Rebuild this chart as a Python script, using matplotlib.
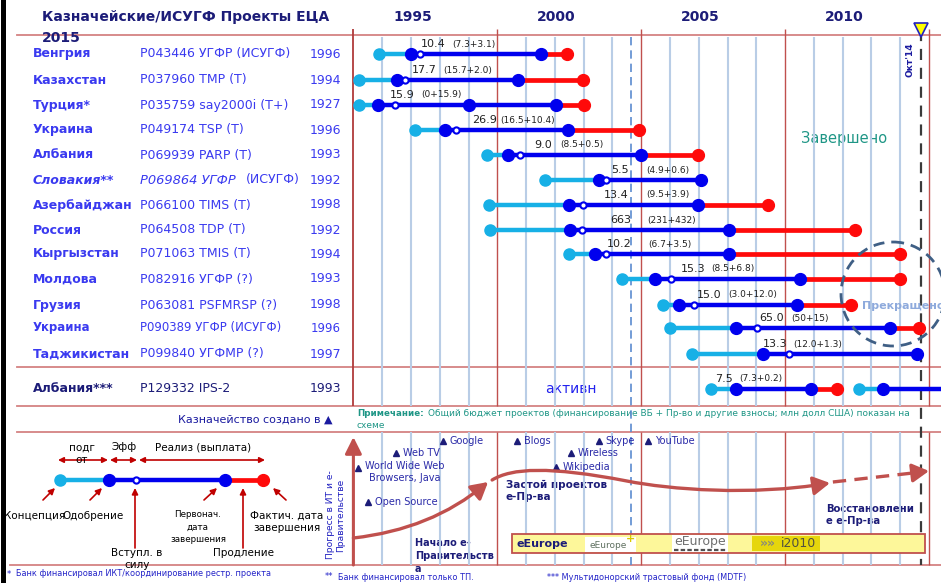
import matplotlib
matplotlib.use('Agg')
import matplotlib.pyplot as plt
from matplotlib.patches import Ellipse, Rectangle, FancyArrowPatch
from matplotlib.path import Path

plt.rcParams['font.family'] = ['DejaVu Sans']

# ---------------- data ----------------
countries = ['Венгрия', 'Казахстан', 'Турция*', 'Украина', 'Албания', 'Словакия**',
             'Азербайджан', 'Россия', 'Кыргызстан', 'Молдова', 'Грузия', 'Украина',
             'Таджикистан', 'Албания***']
projects = ['P043446 УГФР (ИСУГФ)', 'P037960 TMP (T)', 'P035759 say2000i (T+)',
            'P049174 TSP (T)', 'P069939 PARP (T)', 'P069864 УГФР (ИСУГФ)',
            'P066100 TIMS (T)', 'P064508 TDP (T)', 'P071063 TMIS (T)',
            'P082916 УГФР (?)', 'P063081 PSFMRSP (?)', 'P090389 УГФР (ИСУГФ)',
            'P099840 УГФМР (?)', 'P129332 IPS-2']
treasury_year = ['1996', '1994', '1927', '1996', '1993', '1992', '1998', '1992',
                 '1994', '1993', '1998', '1996', '1997', '1993']

concept = [1993.88, 1993.19, 1993.19, 1995.14, 1997.64, 1999.65, 1997.71, 1997.75,
           2000.49, 2002.33, 2003.76, 2003.99, 2004.77, 2005.44]
approval = [1995.00, 1994.53, 1993.84, 1996.20, 1998.36, 2001.53, 2000.50, 2000.54,
            2001.39, 2003.47, 2004.30, 2006.31, 2007.24, 2006.28]
effective = [1995.31, 1994.78, 1994.45, 1996.57, 1998.79, 2001.78, 2000.98, 2000.93,
             2001.76, 2004.05, 2004.83, 2007.02, 2008.15, None]
orig_close = [1999.52, 1998.72, 2000.04, 2000.44, 2002.98, 2005.09, 2004.98, 2006.05,
              2006.05, 2008.51, 2008.41, 2011.63, 2012.58, 2008.89]
actual_close = [2000.42, 2000.99, 2001.01, 2002.94, 2004.96, None, 2007.40, 2010.42,
                2011.99, 2011.99, 2010.30, 2012.64, None, 2009.79]
turkey_extra_milestone = 1997.0
albania2_concept = 2010.58
albania2_approval = 2011.40

budget_total = ['10.4', '17.7', '15.9', '26.9', '9.0', '5.5', '13.4', '663', '10.2',
                '15.3', '15.0', '65.0', '13.3', '7.5']
budget_split = ['(7.3+3.1)', '(15.7+2.0)', '(0+15.9)', '(16.5+10.4)', '(8.5+0.5)',
                '(4.9+0.6)', '(9.5+3.9)', '(231+432)', '(6.7+3.5)', '(8.5+6.8)',
                '(3.0+12.0)', '(50+15)', '(12.0+1.3)', '(7.3+0.2)']

axis_years = [1995, 2000, 2005, 2010]
oct14_year = 2012.73
dashed_ref_year = 2002.65

events = ['World Wide Web\nBrowsers, Java', 'Open Source', 'Web TV', 'Google', 'Blogs',
          'Wikipedia', 'Wireless', 'Skype', 'YouTube']
event_years = [1993.16, 1993.51, 1994.48, 1996.11, 1998.68, 2000.04, 2000.56, 2001.53, 2003.23]

eeurope_start, eeurope_end = 1998.5, 2012.86

# ---------------- layout ----------------
W, H = 941, 583
PX0, PPY = 353.4, 28.78          # pixel of 1993, pixels per year
row_y = [54, 80, 105, 130, 155, 180, 205, 230, 254, 279, 305, 328, 354, 389]
label_total_x = [1995.33, 1995.04, 1994.26, 1997.14, 1999.30, 2001.97, 2001.69, 2001.91,
                 2001.79, 2004.36, 2004.92, 2007.11, 2007.24, 2005.56]
label_split_x = [1996.43, 1996.13, 1995.36, 1998.11, 2000.17, 2003.17, 2003.17, 2003.22,
                 2003.24, 2005.44, 2006.02, 2008.21, 2008.27, 2006.41]
event_y = [468, 502, 453, 441, 441, 467, 453, 441, 441]

NAVY = '#1c1c78'
ROWBLUE = '#3a3af0'
LB = '#17b0e6'
BLUE = '#0000ee'
RED = '#ff0a0a'
DKRED = '#c00000'
GRIDRED = '#c0504d'
GRIDBLUE = '#b9cde6'
HLINE = '#d48282'
TEAL = '#1f9686'
FOOT = '#2323c8'

fig = plt.figure(figsize=(W / 100, H / 100), dpi=100)
fig.patch.set_facecolor('white')
ax = fig.add_axes([0, 0, 1, 1])
ax.set_xlim(0, W)
ax.set_ylim(H, 0)
ax.axis('off')
tax = fig.add_axes([0, 0, 1, 1])
tax.set_xlim(1993 - PX0 / PPY, 1993 + (W - PX0) / PPY)
tax.set_ylim(H, 0)
tax.axis('off')
PXT = ax.transData   # pixel coordinates, usable on either axes

# ---------------- frame / separators ----------------
ax.plot([3.5, 3.5], [0, H], color='black', lw=3.6)
for yy in (35, 367, 406, 432):
    ax.plot([17, W], [yy, yy], color=HLINE, lw=1.3, zorder=1)
ax.plot([10, W], [565, 565], color=HLINE, lw=1.3, zorder=1)

# grid lines (years)
for yr in range(1994, 2014):
    if yr in (1998, 2003, 2008, 2013):
        tax.vlines(yr, 29, 406, color=GRIDRED, lw=1.0, zorder=1)
        tax.vlines(yr, 432, 565, color=GRIDRED, lw=1.0, zorder=1)
    else:
        tax.vlines(yr, 37, 406, color=GRIDBLUE, lw=1.5, zorder=1)
        tax.vlines(yr, 432, 565, color=GRIDBLUE, lw=1.5, zorder=1)
tax.vlines(1993, 29, 406, color='#b03a3a', lw=1.3, zorder=1)
tax.vlines(dashed_ref_year, 37, 565, color='#5b8bd0', lw=1.2, linestyles=(0, (5, 3)), zorder=1)
tax.vlines(oct14_year, 30, 565, color='#3a3a3a', lw=1.6, linestyles=(0, (5, 3.5)), zorder=2)
tax.plot([oct14_year], [30], marker='v', ms=10, mfc='#ffff00', mec='#2020c0', mew=1.2, zorder=5)
tax.text(oct14_year - 0.38, 60, "Окт'14", rotation=90, ha='center', va='center',
         fontsize=6.5, fontweight='bold', color='#1c1ca0')

# header
ax.text(42, 17, 'Казначейские/ИСУГФ Проекты ЕЦА', fontsize=10, fontweight='bold',
        color=NAVY, va='center', ha='left')
ax.text(42, 38, '2015', fontsize=10, fontweight='bold', color=NAVY, va='center', ha='left')
for yr in axis_years:
    tax.text(yr + 0.05, 17, str(yr), fontsize=10, fontweight='bold', color=NAVY,
             ha='center', va='center')

# ---------------- table ----------------
for i in range(len(countries)):
    y = row_y[i]
    last = i == len(countries) - 1
    col = NAVY if last else ROWBLUE
    fs = 8.5 if i == 11 else 9
    if i == 5:
        ax.text(33, y, countries[i], fontsize=fs, fontweight='bold', fontstyle='italic',
                color=col, va='center')
        ax.text(140, y, projects[i][:-7], fontsize=9.4, fontstyle='italic', color=col, va='center')
        ax.text(246, y, projects[i][-7:], fontsize=fs, color=col, va='center', ha='left')
    else:
        ax.text(33, y, countries[i], fontsize=fs, fontweight='bold', color=col, va='center')
        ax.text(140, y, projects[i], fontsize=fs, color=col, va='center')
    ax.text(341, y, treasury_year[i], fontsize=fs, color=col, va='center', ha='right')

# ---------------- timelines ----------------
for i in range(len(countries)):
    y = row_y[i]
    tax.plot([concept[i], approval[i]], [y, y], color=LB, lw=3.2, solid_capstyle='butt', zorder=3)
    if actual_close[i] is not None:
        tax.plot([orig_close[i], actual_close[i]], [y, y], color=RED, lw=3.4,
                 solid_capstyle='butt', zorder=3)
    tax.plot([approval[i], orig_close[i]], [y, y], color=BLUE, lw=3.2, solid_capstyle='butt', zorder=3)
    tax.plot([concept[i]], [y], 'o', ms=8, color=LB, mec=LB, zorder=4)
    tax.plot([approval[i], orig_close[i]], [y, y], 'o', ms=8.5, color=BLUE, mec=BLUE, zorder=4)
    if actual_close[i] is not None:
        tax.plot([actual_close[i]], [y], 'o', ms=8.5, color=RED, mec=RED, zorder=4)
    if effective[i] is not None:
        tax.plot([effective[i]], [y], 'o', ms=4.5, mfc='white', mec=BLUE, mew=1.5, zorder=5)
    tax.text(label_total_x[i], y - 10, budget_total[i], fontsize=8, color='#202020',
             ha='left', va='center', zorder=6)
    tax.text(label_split_x[i], y - 10, budget_split[i], fontsize=6.5, color='#202020',
             ha='left', va='center', zorder=6)

tax.plot([turkey_extra_milestone], [row_y[2]], 'o', ms=8.5, color=BLUE, mec=BLUE, zorder=4)
ya = row_y[-1]
xr = tax.get_xlim()[1]
tax.plot([albania2_concept, albania2_approval], [ya, ya], color=LB, lw=3.2, zorder=3)
tax.plot([albania2_approval, xr], [ya, ya], color=BLUE, lw=3.2, zorder=3)
tax.plot([albania2_concept], [ya], 'o', ms=8, color=LB, mec=LB, zorder=4)
tax.plot([albania2_approval], [ya], 'o', ms=8.5, color=BLUE, mec=BLUE, zorder=4)

ax.text(844, 138, 'Завершено', fontsize=10.5, color=TEAL, ha='center', va='center')
ax.text(571, 389, 'активн', fontsize=10, color='#2222ee', ha='center', va='center')
tax.text(862, 306, 'Прекращено', fontsize=8, fontweight='bold', color='#8eaadc',
         ha='left', va='center', zorder=7, transform=PXT)
tax.add_patch(Ellipse((893, 294), 104, 104, transform=PXT, fill=False,
                      ec='#3f5f85', lw=2, ls=(0, (4, 2.5)), zorder=7))

# ---------------- notes ----------------
ax.text(333, 420, 'Казначейство создано в ▲', fontsize=8, color='#1a1aa0',
        ha='right', va='center')
ax.text(357, 413, 'Примечание:', fontsize=6.3, fontweight='bold', color=TEAL, va='center')
ax.text(428, 413, 'Общий бюджет проектов (финансирование ВБ + Пр-во и другие взносы; '
        'млн долл США) показан на', fontsize=6.5, color=TEAL, va='center')
ax.text(357, 425, 'схеме', fontsize=6.5, color=TEAL, va='center')

ax.text(7, 574, '*', fontsize=6, color=FOOT, va='center')
ax.text(16, 574, 'Банк финансировал ИКТ/координирование рестр. проекта', fontsize=5.9,
        color=FOOT, va='center')
ax.text(325, 577, '**', fontsize=6, color=FOOT, va='center')
ax.text(338, 577, 'Банк финансировал только ТП.', fontsize=5.9, color=FOOT, va='center')
ax.text(547, 577, '*** Мультидонорский трастовый фонд (MDTF)', fontsize=5.9, color=FOOT,
        va='center')

# ---------------- legend diagram ----------------
lg_x = [60, 109, 136, 225, 263]
lg_y = 480
ax.plot([lg_x[0], lg_x[1]], [lg_y, lg_y], color=LB, lw=3.2, zorder=3)
ax.plot([lg_x[1], lg_x[3]], [lg_y, lg_y], color=BLUE, lw=3.2, zorder=3)
ax.plot([lg_x[3], lg_x[4]], [lg_y, lg_y], color=RED, lw=3.4, zorder=3)
ax.plot([lg_x[0]], [lg_y], 'o', ms=8, color=LB, zorder=4)
ax.plot([lg_x[1], lg_x[3]], [lg_y, lg_y], 'o', ms=8.5, color=BLUE, zorder=4)
ax.plot([lg_x[4]], [lg_y], 'o', ms=8.5, color=RED, zorder=4)
ax.plot([lg_x[2]], [lg_y], 'o', ms=4.5, mfc='white', mec=BLUE, mew=1.5, zorder=5)

for a, b in ((58, 108), (110, 137), (139, 265)):
    ax.annotate('', xy=(b, 460), xytext=(a, 460),
                arrowprops=dict(arrowstyle='<|-|>', color=DKRED, lw=1.2, mutation_scale=8,
                                shrinkA=0, shrinkB=0))
ax.text(82, 454, 'подг\nот', fontsize=7.5, ha='center', va='center', linespacing=1.3)
ax.text(124, 447, 'Эфф', fontsize=7.5, ha='center', va='center')
ax.text(203, 447, 'Реализ (выплата)', fontsize=7.5, ha='center', va='center')

for tail, head in (((43, 500), (55, 488)), ((90, 500), (102, 488)), ((135, 548), (135, 488)),
                   ((204, 500), (217, 488)), ((243, 548), (243, 488)), ((286, 500), (273, 488))):
    ax.annotate('', xy=head, xytext=tail,
                arrowprops=dict(arrowstyle='-|>', color=DKRED, lw=1.2, mutation_scale=9,
                                shrinkA=0, shrinkB=0))
ax.text(35, 516, 'Концепция', fontsize=7.5, ha='center', va='center')
ax.text(93, 516, 'Одобрение', fontsize=7.5, ha='center', va='center')
ax.text(198, 527, 'Первонач.\nдата\nзавершения', fontsize=6.3, ha='center', va='center',
        linespacing=1.45)
ax.text(287, 522, 'Фактич. дата\nзавершения', fontsize=7.5, ha='center', va='center',
        linespacing=1.25)
ax.text(137, 559, 'Вступл. в\nсилу', fontsize=7.5, ha='center', va='center', linespacing=1.25)
ax.text(244, 553, 'Продление', fontsize=7.5, ha='center', va='center')

# ---------------- IT / e-gov progress panel ----------------
ax.text(336, 515, 'Прогресс в ИТ и е-\nПравительстве', rotation=90, fontsize=6.6,
        color='#2020c0', ha='center', va='center', linespacing=1.15)
tax.annotate('', xy=(1993.0, 437), xytext=(1993.0, 565),
             arrowprops=dict(arrowstyle='-|>,head_length=0.5,head_width=0.25',
                             color=GRIDRED, lw=2.2, mutation_scale=20, shrinkA=0, shrinkB=0))

for name, yr, yy in zip(events, event_years, event_y):
    tax.plot([yr], [yy], marker='^', ms=5, color=NAVY, zorder=4)
    if '\n' in name:
        tax.annotate(name, (yr, yy), xytext=(5, 5), textcoords='offset points', fontsize=7,
                     color='#2a2aa8', va='top', ha='left', multialignment='center',
                     linespacing=1.3)
    else:
        tax.annotate(name, (yr, yy), xytext=(5, 0), textcoords='offset points', fontsize=7,
                     color='#2a2aa8', va='center', ha='left')

arrow_head = '-|>,head_length=0.5,head_width=0.28'
curve1 = Path([(1993.0, 538), (1994.8, 532), (1996.3, 515), (1997.68, 482)],
              [Path.MOVETO, Path.CURVE4, Path.CURVE4, Path.CURVE4])
tax.add_patch(FancyArrowPatch(path=curve1, arrowstyle=arrow_head,
                              mutation_scale=20, color=GRIDRED, lw=2.4, zorder=4))
curve2 = Path([(1997.82, 480), (1998.5, 468), (1999.8, 466), (2002.5, 481),
               (2004.0, 489.5), (2006.8, 496), (2009.56, 483)],
              [Path.MOVETO, Path.CURVE4, Path.CURVE4, Path.CURVE4,
               Path.CURVE4, Path.CURVE4, Path.CURVE4])
tax.add_patch(FancyArrowPatch(path=curve2, arrowstyle=arrow_head,
                              mutation_scale=20, color=GRIDRED, lw=2.4, zorder=4))
tax.plot([2009.66, 2012.5], [482, 472.8], color=GRIDRED, lw=2.4, ls=(0, (4, 2.5)), zorder=4)
tax.annotate('', xy=(2013.0, 471), xytext=(2012.4, 473),
             arrowprops=dict(arrowstyle=arrow_head,
                             color=GRIDRED, lw=2.4, mutation_scale=20, shrinkA=0, shrinkB=0),
             zorder=4)

ax.text(506, 491, 'Застой проектов\nе-Пр-ва', fontsize=7.5, fontweight='bold', color=NAVY,
        ha='left', va='center', linespacing=1.3)
ax.text(415, 556, 'Начало е-\nПравительств\nа', fontsize=7, fontweight='bold', color=NAVY,
        ha='left', va='center', linespacing=1.35)
ax.text(826, 515, 'Восстановлени\nе е-Пр-ва', fontsize=7.3, fontweight='bold', color=NAVY,
        ha='left', va='center', linespacing=1.3)

# eEurope bar (drawn on the top axes so it covers the grid)
tax.add_patch(Rectangle((eeurope_start, 534), eeurope_end - eeurope_start, 19,
                        facecolor='#fdf79a', edgecolor='#c0504d', lw=1.3, zorder=5))
tax.text(517, 544, 'eEurope', fontsize=8, fontweight='bold', color=NAVY, va='center',
         zorder=7, transform=PXT)
tax.add_patch(Rectangle((585, 537), 51, 15, facecolor='white', edgecolor='none',
                        zorder=6, transform=PXT))
tax.text(608, 545, 'eEurope', fontsize=6.5, color='#5f7060', ha='center', va='center',
         zorder=7, transform=PXT)
tax.text(631, 539, '+', fontsize=8, color='#d8c800', ha='center', va='center',
         fontweight='bold', zorder=7, transform=PXT)
tax.add_patch(Rectangle((672, 535), 56, 17, facecolor='white', edgecolor='none',
                        zorder=6, transform=PXT))
tax.text(700, 541.5, 'eEurope', fontsize=9, color='#707070', ha='center', va='center',
         zorder=7, transform=PXT)
tax.plot([674, 726], [549.5, 549.5], color='#505050', lw=1.6, ls=(0, (2, 1)), zorder=7,
         transform=PXT)
tax.add_patch(Rectangle((752, 536), 68, 15, facecolor='#e6d60c', edgecolor='none',
                        zorder=6, transform=PXT))
tax.text(768, 543.5, '»»', fontsize=9, color='#8a8a7a', ha='center', va='center',
         fontweight='bold', zorder=7, transform=PXT)
tax.text(799, 543.5, 'i2010', fontsize=9, color='#505040', ha='center', va='center',
         zorder=7, transform=PXT)

fig.savefig('out.png', dpi=100, facecolor='white')
